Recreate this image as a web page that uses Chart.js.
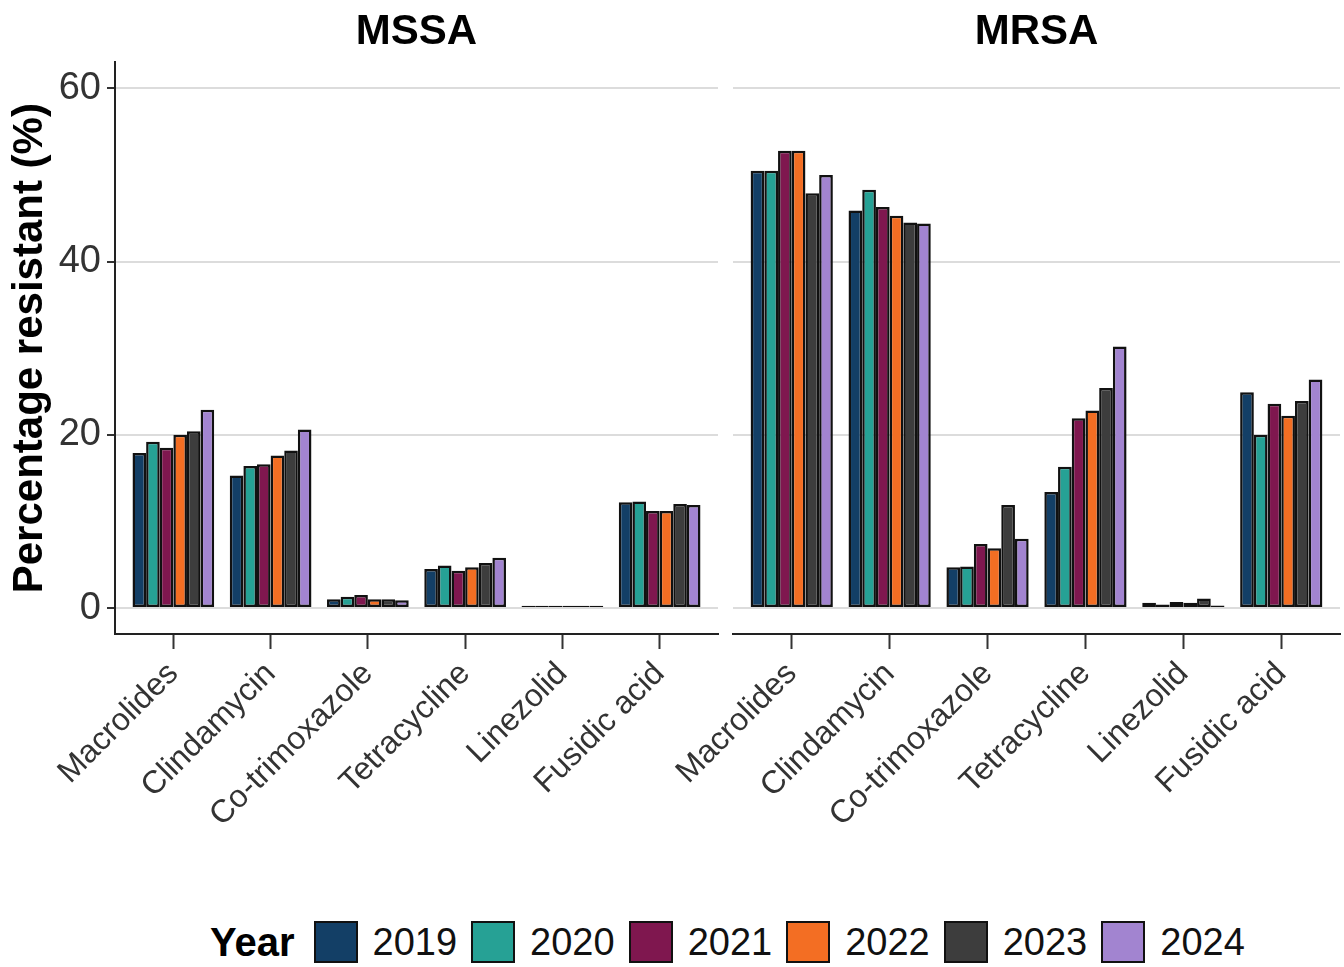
<!DOCTYPE html>
<html>
<head>
<meta charset="utf-8">
<script src="https://cdn.jsdelivr.net/npm/chart.js@4"></script>
<style>
	body { margin: 0; background: #fff; width: 1344px; height: 967px; overflow: hidden; position: relative; font-family: 'Liberation Sans', Arial, sans-serif; }
	canvas { position: absolute; top: 0; }
	#legend { position: absolute; left: 210px; top: 920px; height: 44px; display: flex; align-items: center; }
	#legend .ttl { font-weight: bold; font-size: 40px; margin-right: 19px; }
	#legend .box { width: 40px; height: 38px; border: 2px solid #111; margin-right: 15px; }
	#legend .lbl { font-size: 38px; margin-right: 14px; color: #111; }
</style>
</head>
<body>
<canvas id="mssa" width="722" height="880" style="left:0;width:722px;height:880px"></canvas>
<canvas id="mrsa" width="724" height="880" style="left:620px;width:724px;height:880px"></canvas>
<div id="legend"></div>
<script>
const categories = ['Macrolides', 'Clindamycin', 'Co-trimoxazole', 'Tetracycline', 'Linezolid', 'Fusidic acid']
const years = ['2019', '2020', '2021', '2022', '2023', '2024']
const colors = ['#133F66', '#26A195', '#7F174F', '#F36E23', '#3D3D3D', '#A284D0']

// values per year, in category order
const mssa2019 = [17.9, 15.3, 1.0, 4.5, 0.25, 12.2]
const mssa2020 = [19.2, 16.4, 1.3, 4.9, 0.25, 12.3]
const mssa2021 = [18.5, 16.6, 1.5, 4.3, 0.25, 11.2]
const mssa2022 = [20.0, 17.6, 1.0, 4.7, 0.25, 11.2]
const mssa2023 = [20.4, 18.2, 1.0, 5.2, 0.25, 12.0]
const mssa2024 = [22.9, 20.6, 0.9, 5.8, 0.25, 11.9]

const mrsa2019 = [50.5, 45.9, 4.7, 13.4, 0.6, 24.9]
const mrsa2020 = [50.5, 48.3, 4.8, 16.3, 0.4, 20.0]
const mrsa2021 = [52.8, 46.3, 7.4, 21.9, 0.7, 23.6]
const mrsa2022 = [52.8, 45.3, 6.9, 22.8, 0.6, 22.2]
const mrsa2023 = [47.9, 44.5, 11.9, 25.4, 1.1, 23.9]
const mrsa2024 = [50.0, 44.4, 8.0, 30.2, 0.3, 26.4]

const yTicks = [0, 20, 40, 60]

const FONT = "'Liberation Sans', Arial, sans-serif"

function makeChart(id, title, series, withYAxis) {
	new Chart(document.getElementById(id), {
		type: 'bar',
		data: {
			datasets: series.map((vals, i) => ({
				label: years[i],
				data: vals.map((v, j) => ({ x: j, y: v })),
				backgroundColor: colors[i],
				borderColor: '#111',
				borderWidth: 2.5,
				borderSkipped: false,
				categoryPercentage: 0.84,
				barPercentage: 1.0
			}))
		},
		options: {
			responsive: false,
			animation: false,
			layout: { padding: { left: 0, right: 4, top: 0, bottom: 0 } },
			plugins: {
				legend: { display: false },
				tooltip: { enabled: false },
				title: {
					display: true,
					text: title,
					fullSize: false,
					color: '#000',
					font: { family: FONT, size: 42, weight: 'bold' },
					padding: { top: 7, bottom: 5 }
				}
			},
			scales: {
				x: {
					type: 'linear',
					min: -0.6,
					max: 5.6,
					offset: false,
					afterBuildTicks: scale => { scale.ticks = categories.map((c, i) => ({ value: i })) },
					afterFit: scale => { scale.height = 246 },
					ticks: {
						autoSkip: false,
						maxRotation: 45,
						minRotation: 45,
						padding: 6,
						color: '#333',
						font: { family: FONT, size: 32 },
						callback: v => categories[v]
					},
					grid: { offset: false, drawOnChartArea: false, tickLength: 15, tickColor: '#333', tickWidth: 2 },
					border: { display: true, color: '#222', width: 2 }
				},
				y: {
					min: -3,
					max: 63,
					afterBuildTicks: scale => { scale.ticks = yTicks.map(v => ({ value: v })) },
					afterFit: scale => { scale.width = withYAxis ? 115 : 113 },
					ticks: {
						display: withYAxis,
						padding: 6,
						color: '#333',
						font: { family: FONT, size: 38 }
					},
					title: {
						display: withYAxis,
						text: 'Percentage resistant (%)',
						color: '#000',
						font: { family: FONT, size: 42, weight: 'bold' },
						padding: { top: 5, bottom: 0 }
					},
					grid: { color: '#dcdcdc', lineWidth: 2, drawTicks: withYAxis, tickLength: 8, tickColor: '#333', tickWidth: 2 },
					border: { display: withYAxis, color: '#222', width: 2 }
				}
			}
		}
	})
}

makeChart('mssa', 'MSSA', [mssa2019, mssa2020, mssa2021, mssa2022, mssa2023, mssa2024], true)
makeChart('mrsa', 'MRSA', [mrsa2019, mrsa2020, mrsa2021, mrsa2022, mrsa2023, mrsa2024], false)

// legend row
const legend = document.getElementById('legend')
legend.innerHTML = '<span class="ttl">Year</span>' + years.map((y, i) =>
	'<span class="box" style="background:' + colors[i] + '"></span><span class="lbl">' + y + '</span>'
).join('')
</script>
</body>
</html>
